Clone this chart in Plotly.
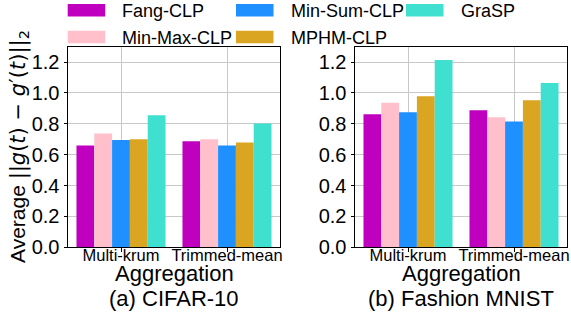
import plotly.graph_objects as go

categories = ["Multi-krum", "Trimmed-mean"]
methods = ["Fang-CLP", "Min-Max-CLP", "Min-Sum-CLP", "MPHM-CLP", "GraSP"]
colors = ["#BF00BF", "#FFC0CB", "#1E90FF", "#DAA520", "#40E0D0"]

cifar_fang = [0.66, 0.688]
cifar_minmax = [0.738, 0.700]
cifar_minsum = [0.695, 0.660]
cifar_mphm = [0.700, 0.679]
cifar_grasp = [0.855, 0.803]

fmnist_fang = [0.862, 0.888]
fmnist_minmax = [0.936, 0.842]
fmnist_minsum = [0.875, 0.816]
fmnist_mphm = [0.979, 0.953]
fmnist_grasp = [1.214, 1.064]

cifar = [cifar_fang, cifar_minmax, cifar_minsum, cifar_mphm, cifar_grasp]
fmnist = [fmnist_fang, fmnist_minmax, fmnist_minsum, fmnist_mphm, fmnist_grasp]

ytick_vals = [0.0, 0.2, 0.4, 0.6, 0.8, 1.0, 1.2]
subtitles = ["(a) CIFAR-10", "(b) Fashion MNIST"]
xlabel = "Aggregation"
ylabel = ("Average <span style=\"font-family:'DejaVu Sans'\">||<i>g</i>(<i>t</i>) − "
          "<i>g</i>′(<i>t</i>)||<sub>2</sub></span>")

W, H = 571, 320
FONT = "Liberation Sans, Arial, sans-serif"

fig = go.Figure()
for i, name in enumerate(methods):
    fig.add_trace(go.Bar(x=categories, y=cifar[i], name=name, marker_color=colors[i],
                         marker_line_width=0, xaxis="x", yaxis="y", showlegend=False))
for i, name in enumerate(methods):
    fig.add_trace(go.Bar(x=categories, y=fmnist[i], name=name, marker_color=colors[i],
                         marker_line_width=0, xaxis="x2", yaxis="y2", showlegend=False))

def px_x(p):
    return p / W

def px_y(p):
    return 1 - p / H

xdoms = [[px_x(68), px_x(280)], [px_x(355), px_x(567)]]
ydom = [px_y(247.3), px_y(46.7)]

axis_common = dict(showline=True, mirror=True, linecolor="black", linewidth=1,
                   showgrid=True, gridcolor="#c8c8c8", gridwidth=1, automargin=False,
                   ticks="outside", ticklen=3.5, tickcolor="black", zeroline=False)

xa = dict(type="category", categoryorder="array", categoryarray=categories,
          range=[-0.5, 1.5], tickfont=dict(size=16.5, color="black", family=FONT),
          ticklabelstandoff=-11, **axis_common)
ya = dict(range=[0, 1.3], tickvals=ytick_vals, tickformat=".1f",
          tickfont=dict(size=20, color="black", family=FONT), **axis_common)

fig.update_layout(
    template="none",
    width=W, height=H,
    margin=dict(l=0, r=0, t=0, b=0, pad=0),
    paper_bgcolor="white", plot_bgcolor="white",
    font=dict(family=FONT, color="black"),
    barmode="group", bargap=0.16, bargroupgap=0,
    xaxis=dict(domain=xdoms[0], anchor="y", **xa),
    yaxis=dict(domain=ydom, anchor="x", **ya),
    xaxis2=dict(domain=xdoms[1], anchor="y2", **xa),
    yaxis2=dict(domain=ydom, anchor="x2", **ya),
)

annotations = []
for k in range(2):
    cx = (xdoms[k][0] + xdoms[k][1]) / 2
    annotations.append(dict(text=xlabel, x=cx, y=px_y(273), xref="paper", yref="paper",
                            xanchor="center", yanchor="middle", showarrow=False,
                            font=dict(size=22, color="black")))
    annotations.append(dict(text=subtitles[k], x=cx, y=px_y(298), xref="paper", yref="paper",
                            xanchor="center", yanchor="middle", showarrow=False,
                            font=dict(size=22, color="black")))
annotations.append(dict(text=ylabel, x=px_x(19), y=(ydom[0] + ydom[1]) / 2,
                        xref="paper", yref="paper", xanchor="center", yanchor="middle",
                        textangle=-90, showarrow=False, font=dict(size=21, color="black")))

# manual legend (3 columns, filled column-first)
col_sw_x = [67.7, 236, 406]
sw_w = 37.5
text_gap = 15
row_y = [10.3, 37]
sw_h = 12.6
shapes = []
for i, name in enumerate(methods):
    c, r = i // 2, i % 2
    x0 = col_sw_x[c]
    yc = row_y[r]
    shapes.append(dict(type="rect", xref="paper", yref="paper",
                       x0=px_x(x0), x1=px_x(x0 + sw_w),
                       y0=px_y(yc + sw_h / 2), y1=px_y(yc - sw_h / 2),
                       fillcolor=colors[i], line=dict(width=0)))
    annotations.append(dict(text=name, x=px_x(x0 + sw_w + text_gap), y=px_y(yc + 0.5),
                            xref="paper", yref="paper", xanchor="left", yanchor="middle",
                            showarrow=False, font=dict(size=18, color="black")))

fig.update_layout(annotations=annotations, shapes=shapes)
fig.write_html("out.html", config={"displayModeBar": False},
               post_script="document.body.style.margin='0';document.body.style.padding='0';")
